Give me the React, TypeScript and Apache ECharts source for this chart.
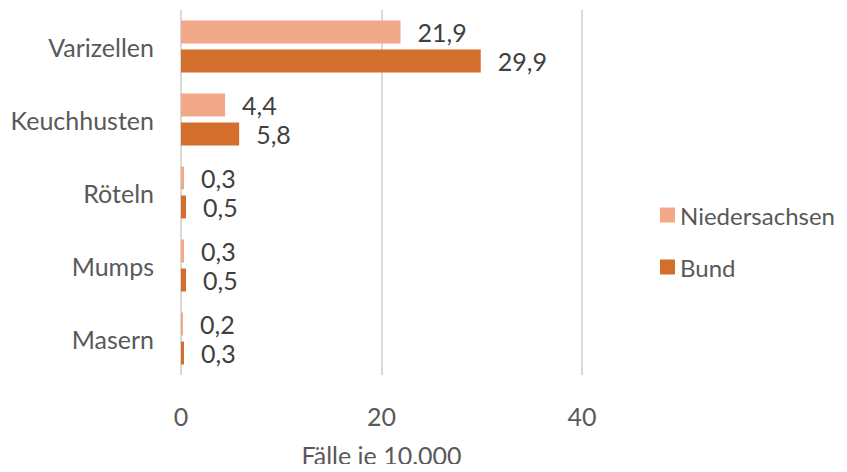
import React, { useEffect, useRef } from "react";
import * as echarts from "echarts";

const categories = ["Varizellen", "Keuchhusten", "Röteln", "Mumps", "Masern"];
const niedersachsen = [21.9, 4.4, 0.3, 0.3, 0.2];
const bund = [29.9, 5.8, 0.5, 0.5, 0.3];
const seriesNames = ["Niedersachsen", "Bund"];
const axisName = "Fälle je 10.000";

const FONT = "Lato";
const FS = 25;

export default function App() {
  const ref = useRef<HTMLDivElement>(null);
  useEffect(() => {
    const chart = echarts.init(ref.current!, null, { renderer: "svg" });
    const fmt = (p: any) => String(p.value).replace(".", ",");
    const label = {
      show: true,
      position: "right",
      distance: 17,
      formatter: fmt,
      color: "#404040",
      fontSize: FS,
      fontFamily: FONT,
    };
    chart.setOption({
      animation: false,
      textStyle: { fontFamily: FONT },
      grid: { left: 181, right: 265, top: 10, bottom: 90, containLabel: false },
      legend: {
        orient: "vertical",
        left: 660,
        top: 203,
        padding: 0,
        itemWidth: 15,
        itemHeight: 15,
        itemGap: 28,
        icon: "rect",
        textStyle: { color: "#595959", fontSize: 24, fontFamily: FONT },
        data: seriesNames,
      },
      xAxis: {
        type: "value",
        min: 0,
        max: 40,
        interval: 20,
        name: axisName,
        nameLocation: "middle",
        nameGap: 67,
        nameTextStyle: { color: "#595959", fontSize: FS, fontFamily: FONT },
        axisLine: { show: false },
        axisTick: { show: false },
        axisLabel: { color: "#595959", fontSize: FS, fontFamily: FONT, margin: 28 },
        splitLine: { lineStyle: { color: "#D9D9D9", width: 2 } },
      },
      yAxis: {
        type: "category",
        data: categories,
        inverse: true,
        axisLine: { show: false },
        axisTick: { show: false },
        axisLabel: { color: "#595959", fontSize: FS, fontFamily: FONT, margin: 27 },
      },
      series: [
        {
          name: seriesNames[0],
          type: "bar",
          data: niedersachsen,
          barWidth: 23,
          barGap: "26%",
          itemStyle: { color: "#F4A88A" },
          label,
        },
        {
          name: seriesNames[1],
          type: "bar",
          data: bund,
          barWidth: 23,
          barGap: "26%",
          itemStyle: { color: "#D46E2C" },
          label,
        },
      ],
    });
    return () => chart.dispose();
  }, []);
  return <div ref={ref} style={{ width: 847, height: 472, margin: -8 }} />;
}
